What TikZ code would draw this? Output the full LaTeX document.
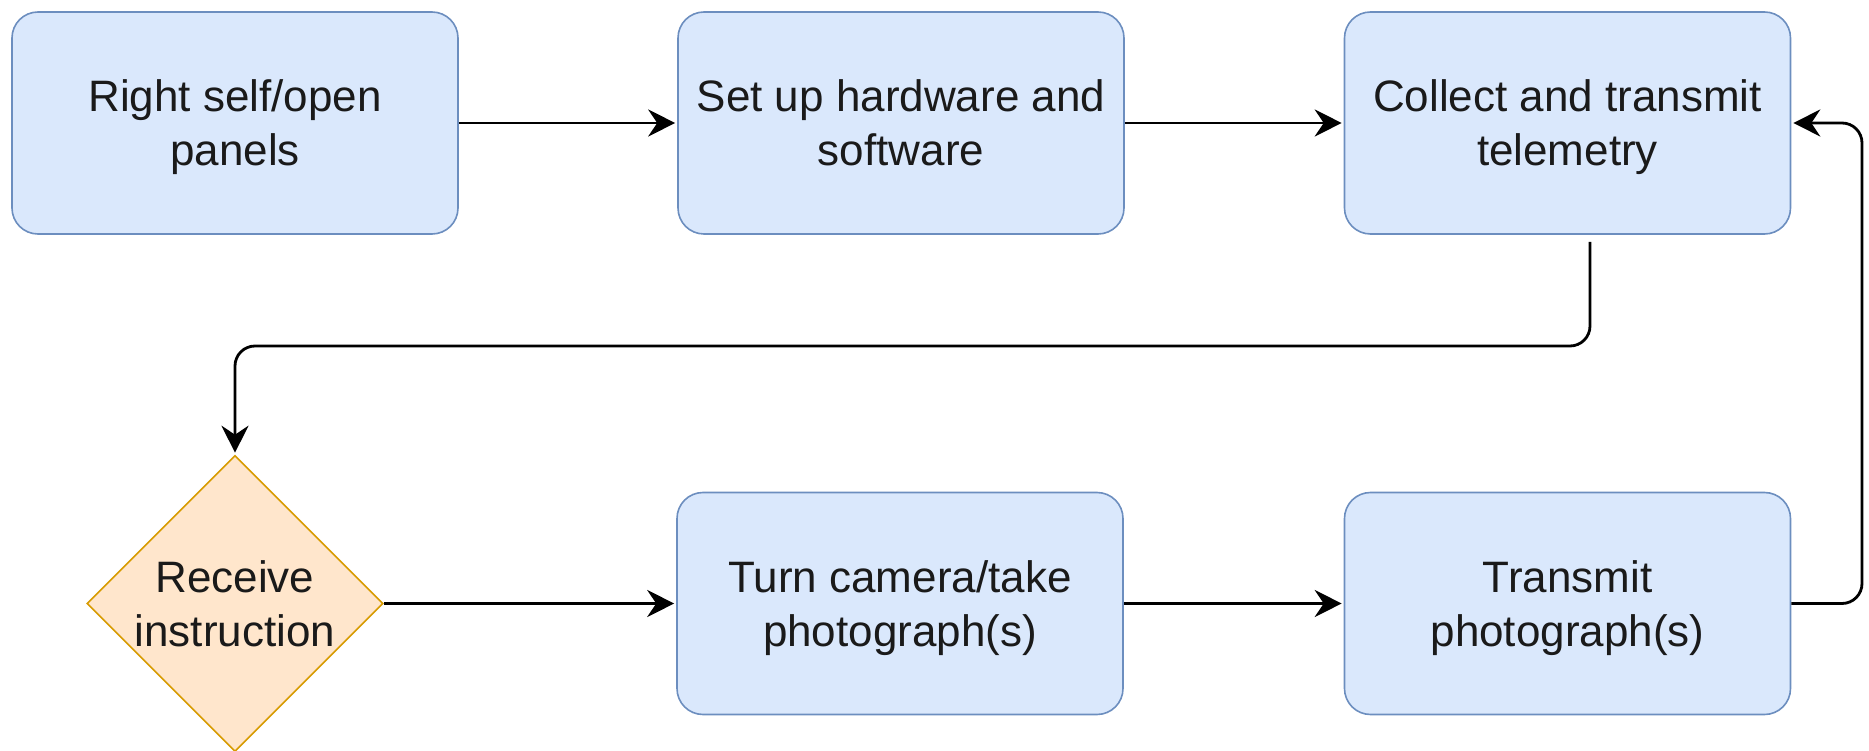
\documentclass[tikz,border=0pt]{standalone}
\usepackage{fontspec}
\setmainfont{Liberation Sans}
\usetikzlibrary{shapes.geometric,arrows.meta}
\definecolor{bfill}{HTML}{DAE8FC}
\definecolor{bdraw}{HTML}{6C8EBF}
\definecolor{ofill}{HTML}{FFE6CC}
\definecolor{odraw}{HTML}{D79B00}
\definecolor{txt}{HTML}{1A1A1A}
\tikzset{
  stepbox/.style={draw=bdraw, fill=bfill, line width=1.6pt, rounded corners=26pt,
    minimum width=446pt, minimum height=222pt, inner sep=0pt, align=center,
    text=txt, font=\fontsize{44}{54}\selectfont, text depth=-8pt},
  decide/.style={diamond, draw=odraw, fill=ofill, line width=1.6pt,
    minimum width=296pt, minimum height=296pt, inner sep=0pt, align=center,
    text=txt, font=\fontsize{44}{54}\selectfont, text depth=-7pt},
  arr/.style={draw=black, line width=2.8pt, rounded corners=20pt, shorten >=2pt,
    -{Stealth[length=27pt,width=27pt,inset=9pt]}}
}
\begin{document}
\begin{tikzpicture}[x=1pt,y=-1pt]
\useasboundingbox (0,0) rectangle (1869,751);
\node[stepbox] (b1) at (235,123) {Right self/open\\panels};
\node[stepbox] (b2) at (901,123) {Set up hardware and\\software};
\node[stepbox] (b3) at (1567.5,123) {Collect and transmit\\telemetry};
\node[decide] (d) at (235,603.5) {Receive\\instruction};
\node[stepbox] (b4) at (900,603.5) {Turn camera/take\\photograph(s)};
\node[stepbox] (b5) at (1567.5,603.5) {Transmit\\photograph(s)};
\coordinate (s3) at (1590,242);
\coordinate (k1) at (1590,346);
\coordinate (k2) at (235,346);
\coordinate (r1) at (1862,603.5);
\coordinate (r2) at (1862,123);
\draw[arr] (b1.east) -- (b2.west);
\draw[arr] (b2.east) -- (b3.west);
\draw[arr] (s3) -- (k1) -- (k2) -- (d.north);
\draw[arr] (d.east) -- (b4.west);
\draw[arr] (b4.east) -- (b5.west);
\draw[arr] (b5.east) -- (r1) -- (r2) -- (b3.east);
\end{tikzpicture}
\end{document}
